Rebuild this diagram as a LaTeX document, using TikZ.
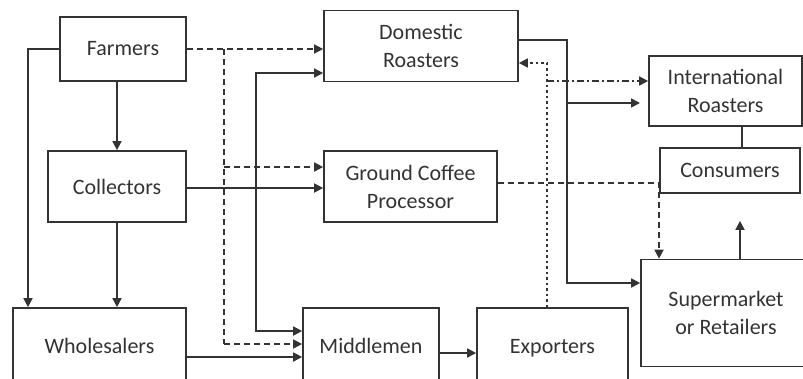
\documentclass[tikz,border=0pt]{standalone}
\usepackage{fontspec}
\setmainfont{Carlito}
\usetikzlibrary{arrows.meta}
\definecolor{ln}{HTML}{333333}
\definecolor{tx}{HTML}{333333}
\begin{document}
\begin{tikzpicture}[x=1pt,y=-1pt,
  box/.style={draw=ln,line width=1.7pt,inner sep=0pt,align=center,text=tx,
    font=\fontsize{22}{28}\selectfont},
  cut/.style={minimum height=82pt},
  conn/.style={draw=ln,line width=1.7pt},
  arr/.style={conn,-{Triangle[length=9pt,width=9pt]}},
  dbl/.style={conn,{Triangle[length=9pt,width=9pt]}-{Triangle[length=9pt,width=9pt]}},
  dsh/.style={dash pattern=on 6pt off 4pt},
  dtt/.style={dash pattern=on 2.5pt off 3pt},
  dshdot/.style={dash pattern=on 7pt off 3pt on 2pt off 3pt}]
\useasboundingbox (0,0) rectangle (803,378);
\node[box,minimum width=126pt,minimum height=64pt] (farmers) at (123,49) {Farmers};
\node[box,minimum width=138pt,minimum height=71pt] (collectors) at (117,186.5) {Collectors};
\node[box,cut,minimum width=173pt] (wholesalers) at (99.5,349) {\raisebox{6pt}{Wholesalers}};
\node[box,minimum width=194pt,minimum height=71pt] (domestic) at (421,46) {Domestic\\Roasters};
\node[box,minimum width=173pt,minimum height=71pt] (gcp) at (410.5,186.5) {Ground Coffee\\Processor};
\node[box,cut,minimum width=136pt] (middlemen) at (371,349) {\raisebox{6pt}{Middlemen}};
\node[box,cut,minimum width=151pt] (exporters) at (552.5,349) {\raisebox{6pt}{Exporters}};
\node[box,minimum width=153pt,minimum height=70pt] (intl) at (725.5,91) {International\\Roasters};
\node[box,minimum width=140pt,minimum height=45pt] (consumers) at (730,170.5) {Consumers};
\node[box,minimum width=170pt,minimum height=107pt] (super) at (726,313) {Supermarket\\or Retailers};
% Farmers -> Wholesalers (left)
\draw[arr] (farmers.west) -| (wholesalers.north -| 28,0);
% Farmers -> Collectors -> Wholesalers
\draw[arr] (farmers.south -| collectors.north) -- (collectors.north);
\draw[arr] (collectors.south) -- (collectors.south |- wholesalers.north);
% Farmers dashed
\coordinate (dj) at (224,49);
\coordinate (dg) at (224,167);
\coordinate (dm) at (224,344);
\draw[arr,dsh] (farmers.east) -- (farmers.east -| domestic.west);
\draw[conn,dsh] (dj) -- (dm);
\draw[arr,dsh] (dg) -- (dg -| gcp.west);
\draw[arr,dsh] (dm) -- (dm -| middlemen.west);
% Collectors -> GCP
\draw[arr] ([yshift=-1.5pt]collectors.east) -- ([yshift=-1.5pt]collectors.east -| gcp.west);
% Middlemen <-> Domestic roasters
\coordinate (s1) at (256,73);
\coordinate (s2) at (256,331);
\draw[dbl] (s1 -| domestic.west) -- (s1) -- (s2) -- (s2 -| middlemen.west);
% Wholesalers -> Middlemen -> Exporters
\draw[arr] (wholesalers.east |- 0,357) -- (middlemen.west |- 0,357);
\draw[arr] (middlemen.east |- 0,353) -- (exporters.west |- 0,353);
% Exporters dotted -> Domestic
\draw[arr,dtt] (exporters.north -| 547,0) |- ([yshift=-17pt]domestic.east);
\coordinate (e2) at (547,81);
\draw[arr,dshdot] (e2) -- (e2 -| intl.west);
% Domestic -> Supermarket, International
\coordinate (r1) at (567,40);
\coordinate (r2) at (567,283);
\coordinate (r3) at (567,103);
\coordinate (r4) at (640,103);
\draw[arr] (r1 -| domestic.east) -- (r1) -- (r2) -- (r2 -| super.west);
\draw[arr] (r3) -- (r4);
% GCP dashed -> Supermarket
\draw[arr,dsh] ([yshift=3.5pt]gcp.east) -| (super.north -| 659,0);
% Supermarket -> Consumers
\draw[arr] (super.north -| 740,0) -- ([yshift=-27pt]consumers.south -| 740,0);
% International -- Consumers
\draw[conn] ([xshift=16.5pt]intl.south) -- ([xshift=16.5pt]intl.south |- consumers.north);
\end{tikzpicture}
\end{document}
